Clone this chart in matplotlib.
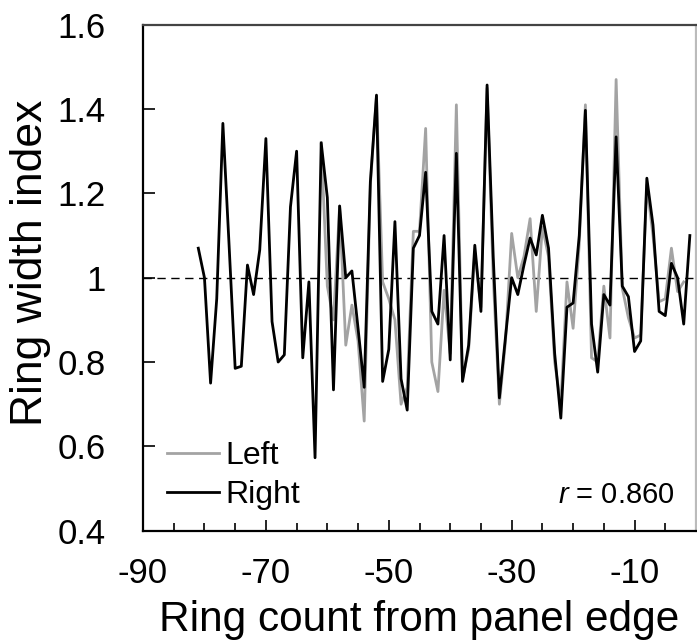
import matplotlib
matplotlib.use("Agg")
import matplotlib.pyplot as plt
from matplotlib.ticker import MultipleLocator, FixedLocator

plt.rcParams['font.family'] = ['Liberation Sans', 'DejaVu Sans']
plt.rcParams['axes.unicode_minus'] = False
plt.rcParams['mathtext.fontset'] = 'custom'
plt.rcParams['mathtext.it'] = 'Liberation Sans:italic'
plt.rcParams['mathtext.rm'] = 'Liberation Sans'

# Ring counts (x) and ring width indices
right_x = list(range(-81, 0))
right_y = [1.07, 1.00, 0.75, 0.95, 1.366, 1.08, 0.785, 0.79, 1.03, 0.96,
           1.066, 1.33, 0.896, 0.80, 0.817, 1.168, 1.30, 0.81, 0.99, 0.573,
           1.32, 1.19, 0.734, 1.17, 1.00, 1.016, 0.88, 0.74, 1.227, 1.433,
           0.754, 0.83, 1.133, 0.76, 0.686, 1.07, 1.10, 1.25, 0.92, 0.89,
           1.10, 0.805, 1.295, 0.754, 0.84, 1.077, 0.92, 1.457, 1.05, 0.715,
           0.86, 1.00, 0.96, 1.03, 1.094, 1.054, 1.148, 1.07, 0.82, 0.667,
           0.93, 0.94, 1.10, 1.397, 0.89, 0.776, 0.96, 0.935, 1.334, 0.98,
           0.955, 0.825, 0.85, 1.236, 1.125, 0.92, 0.91, 1.034, 1.00, 0.89,
           1.10]

left_x = list(range(-61, -1))
left_y = [1.32, 0.98, 0.90, 1.17, 0.84, 0.935, 0.85, 0.66, 1.22, 1.43,
          0.99, 0.95, 0.90, 0.70, 0.74, 1.11, 1.11, 1.354, 0.80, 0.73,
          0.97, 0.82, 1.41, 0.76, 0.83, 1.06, 0.93, 1.45, 1.00, 0.70,
          0.85, 1.105, 1.00, 1.05, 1.14, 0.92, 1.12, 1.05, 0.80, 0.70,
          0.99, 0.88, 1.08, 1.41, 0.81, 0.80, 0.98, 0.857, 1.47, 0.975,
          0.905, 0.857, 0.864, 1.22, 1.10, 0.943, 0.95, 1.07, 0.967, 0.99]

x_major_ticks = [-90, -70, -50, -30, -10]
y_ticks = [0.4, 0.6, 0.8, 1.0, 1.2, 1.4, 1.6]
y_tick_labels = ['0.4', '0.6', '0.8', '1', '1.2', '1.4', '1.6']
r_value = 0.860

fig = plt.figure(figsize=(6.97, 6.43), dpi=100)
ax = fig.add_axes([143/697, 1 - 530.7/643, (696 - 143)/697, (530.7 - 24.7)/643])

ax.axhline(1.0, color='black', lw=1.0, ls=(0, (6, 4)), zorder=1)
ax.plot(left_x, left_y, color='#a3a3a3', lw=2.0, label='Left', zorder=2)
ax.plot(right_x, right_y, color='black', lw=2.0, label='Right', zorder=3)

ax.set_xlim(-90, 0)
ax.set_ylim(0.4, 1.6)
ax.xaxis.set_major_locator(FixedLocator(x_major_ticks))
ax.xaxis.set_minor_locator(MultipleLocator(5))
ax.set_yticks(y_ticks)
ax.set_yticklabels(y_tick_labels)

ax.tick_params(axis='x', which='major', direction='in', length=8, width=1.2,
               labelsize=25, pad=19, top=False)
ax.tick_params(axis='x', which='minor', direction='in', length=6, width=1.2, top=False)
ax.tick_params(axis='y', which='major', direction='in', length=8.5, width=1.2,
               labelsize=25, pad=27, right=False)

for s in ax.spines.values():
    s.set_linewidth(1.6)
ax.spines['top'].set_color('#444444')
ax.spines['right'].set_color('#bbbbbb')

ax.set_xlabel('Ring count from panel edge', fontsize=30.5, labelpad=7)
ax.set_ylabel('Ring width index', fontsize=32)
ax.yaxis.set_label_coords(-0.166, 0.53)

ax.legend(loc='lower left', frameon=False, fontsize=23, handlelength=1.63,
          handletextpad=0.19, labelspacing=0.30, borderaxespad=0, borderpad=0,
          bbox_to_anchor=(0.043, 0.04))

ax.text(0.962, 0.0706, r'$\it{r}$' + f' = {r_value:.3f}', transform=ax.transAxes,
        ha='right', va='center', fontsize=21)

fig.savefig('out.png', dpi=100)
